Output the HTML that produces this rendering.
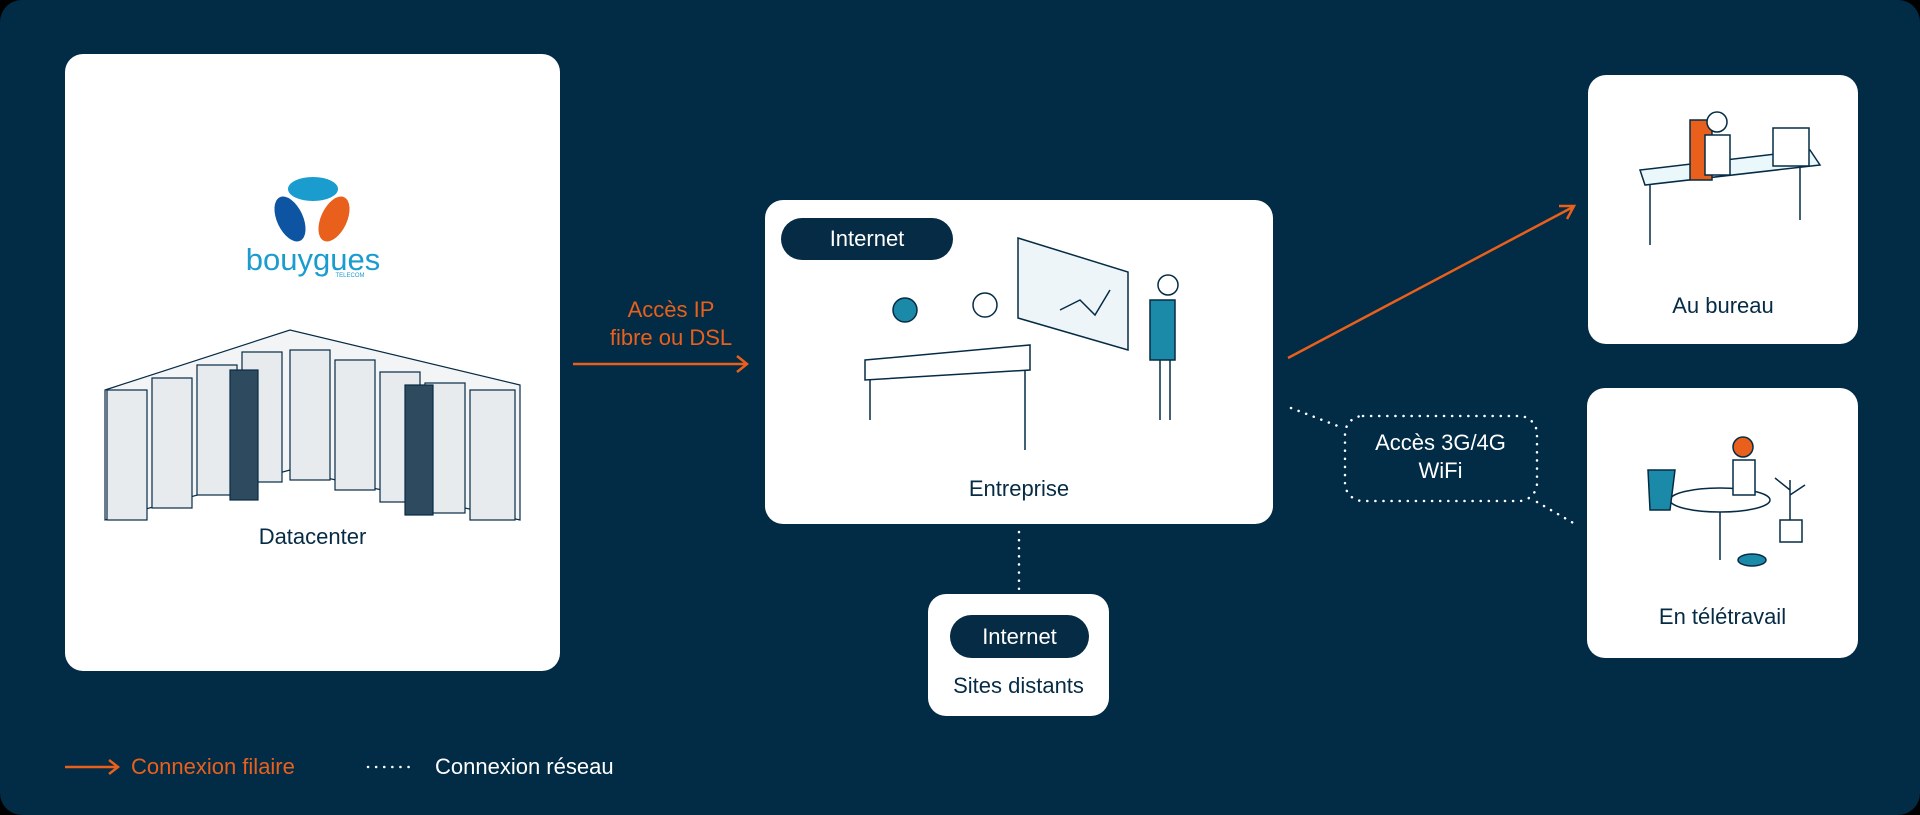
<!DOCTYPE html>
<html><head><meta charset="utf-8"><style>
html,body{margin:0;padding:0;background:#000;}
#bg{position:absolute;left:0;top:0;width:1920px;height:815px;background:#022b45;border-radius:22px;overflow:hidden;font-family:"Liberation Sans",sans-serif;}
.card{position:absolute;background:#fff;border-radius:18px;}
.lbl{position:absolute;color:#062b45;font-size:22px;text-align:center;width:100%;}
.pill{position:absolute;background:#062b45;color:#fff;border-radius:22px;font-size:22px;text-align:center;}
.t{position:absolute;font-size:22px;}
</style></head><body>
<div id="bg">
<div class="card" style="left:65px;top:54px;width:495px;height:617px;">
  <div class="lbl" style="top:470px;">Datacenter</div>
</div>
<div class="card" style="left:765px;top:200px;width:508px;height:324px;">
  <div class="pill" style="left:16px;top:18px;width:172px;height:42px;line-height:42px;">Internet</div>
  <div class="lbl" style="top:276px;">Entreprise</div>
</div>
<div class="card" style="left:928px;top:594px;width:181px;height:122px;">
  <div class="pill" style="left:22px;top:21px;width:139px;height:43px;line-height:43px;">Internet</div>
  <div class="lbl" style="top:79px;">Sites distants</div>
</div>
<div class="card" style="left:1588px;top:75px;width:270px;height:269px;">
  <div class="lbl" style="top:218px;">Au bureau</div>
</div>
<div class="card" style="left:1587px;top:388px;width:271px;height:270px;">
  <div class="lbl" style="top:216px;">En télétravail</div>
</div>
<div class="t" style="left:571px;top:296px;width:200px;text-align:center;color:#e8601c;line-height:28px;">Accès IP<br>fibre ou DSL</div>
<div class="t" style="left:1343px;top:429px;width:195px;text-align:center;color:#fff;line-height:28px;">Accès 3G/4G<br>WiFi</div>
<div class="t" style="left:131px;top:754px;color:#e8601c;">Connexion filaire</div>
<div class="t" style="left:435px;top:754px;color:#fff;">Connexion réseau</div>
<svg width="1920" height="815" style="position:absolute;left:0;top:0">
  <g fill="none" stroke="#e8601c" stroke-width="2.5">
    <line x1="573" y1="364" x2="746" y2="364"/><polyline points="737,356 747,364 737,372"/>
    <line x1="1288" y1="358" x2="1573" y2="207"/><polyline points="1559,206 1574,206 1567,219"/>
    <line x1="65" y1="767" x2="117" y2="767"/><polyline points="109,760 118,767 109,774"/>
  </g>
  <g fill="none" stroke="#fff" stroke-width="2.5" stroke-dasharray="0.1 8" stroke-linecap="round">
    <line x1="1019" y1="532" x2="1019" y2="592"/>
    <line x1="1291" y1="408" x2="1343" y2="428"/>
    <rect x="1345" y="416" width="192" height="85" rx="18"/>
    <line x1="1537" y1="502" x2="1575" y2="524"/>
    <line x1="368" y1="767" x2="416" y2="767"/>
  </g>
  <ellipse cx="313" cy="189" rx="25" ry="12" fill="#1a9ccf"/>
  <ellipse cx="290" cy="219" rx="13" ry="24" transform="rotate(-25 290 219)" fill="#0d55a3"/>
  <ellipse cx="334" cy="219" rx="13" ry="24" transform="rotate(25 334 219)" fill="#e8601c"/>
  <text x="313" y="270" text-anchor="middle" font-family="Liberation Sans" font-size="31" fill="#1a9ccf">bouygues</text>
  <text x="350" y="277" text-anchor="middle" font-family="Liberation Sans" font-size="6" fill="#1a9ccf">TELECOM</text>
  <g stroke="#062b45" stroke-width="1.2">
    <polygon points="105,390 290,330 520,385 520,520 290,470 105,520" fill="#f2f4f6"/>
    <g fill="#e8ebee">
      <rect x="107" y="390" width="40" height="130"/><rect x="152" y="378" width="40" height="130"/>
      <rect x="197" y="365" width="40" height="130"/><rect x="242" y="352" width="40" height="130"/>
      <rect x="290" y="350" width="40" height="130"/><rect x="335" y="360" width="40" height="130"/>
      <rect x="380" y="372" width="40" height="130"/><rect x="425" y="383" width="40" height="130"/>
      <rect x="470" y="390" width="45" height="130"/>
    </g>
    <g fill="#2e4a5e"><rect x="230" y="370" width="28" height="130"/><rect x="405" y="385" width="28" height="130"/></g>
  </g>
  <g stroke="#062b45" stroke-width="1.5" fill="none">
    <polygon points="1018,238 1128,272 1128,350 1018,318" fill="#eef5f8"/>
    <polyline points="1060,310 1080,300 1095,315 1110,290"/>
    <polygon points="865,360 1030,345 1030,370 865,380" fill="#fff"/>
    <line x1="870" y1="380" x2="870" y2="420"/><line x1="1025" y1="370" x2="1025" y2="450"/>
    <circle cx="905" cy="310" r="12" fill="#1b8aa8"/><circle cx="985" cy="305" r="12" fill="#fff"/>
    <rect x="1150" y="300" width="25" height="60" fill="#1b8aa8"/>
    <line x1="1160" y1="360" x2="1160" y2="420"/><line x1="1170" y1="360" x2="1170" y2="420"/>
    <circle cx="1168" cy="285" r="10" fill="#fff"/>
  </g>
  <g stroke="#062b45" stroke-width="1.5" fill="none">
    <polygon points="1640,170 1810,150 1820,165 1645,185" fill="#eaf7fb"/>
    <line x1="1650" y1="185" x2="1650" y2="245"/><line x1="1800" y1="165" x2="1800" y2="220"/>
    <rect x="1690" y="120" width="22" height="60" fill="#e8601c"/>
    <rect x="1773" y="128" width="36" height="38" fill="#fff"/>
    <circle cx="1717" cy="122" r="10" fill="#fff"/>
    <rect x="1705" y="135" width="25" height="40" fill="#fff"/>
  </g>
  <g stroke="#062b45" stroke-width="1.5" fill="none">
    <ellipse cx="1720" cy="500" rx="50" ry="12" fill="#fff"/>
    <line x1="1720" y1="512" x2="1720" y2="560"/>
    <polygon points="1648,470 1675,470 1670,510 1650,510" fill="#1b8aa8"/>
    <circle cx="1743" cy="447" r="10" fill="#e8601c"/>
    <rect x="1733" y="460" width="22" height="35" fill="#fff"/>
    <rect x="1780" y="520" width="22" height="22" fill="#fff"/>
    <path d="M1790 520 L1790 480 M1790 495 L1805 485 M1790 490 L1775 478" />
    <ellipse cx="1752" cy="560" rx="14" ry="6" fill="#1b8aa8"/>
  </g>
</svg>
</div>
</body></html>
